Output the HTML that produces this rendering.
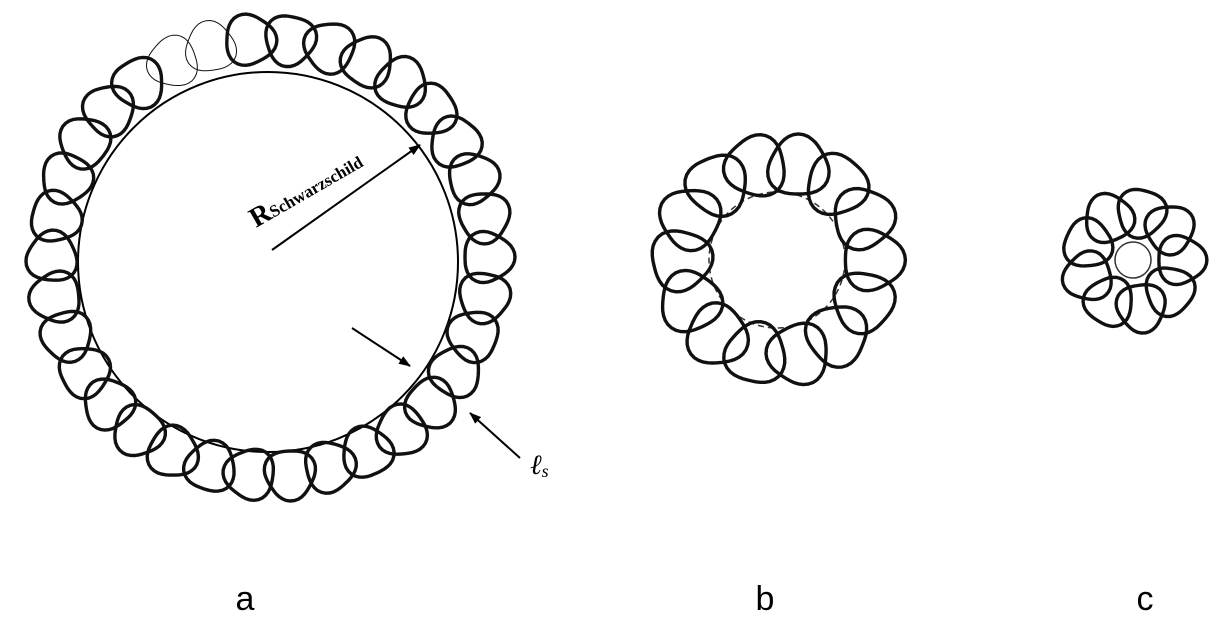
<!DOCTYPE html>
<html><head><meta charset="utf-8"><style>
html,body{margin:0;padding:0;background:#fff;}
svg{display:block}
</style></head><body>
<svg id="s" width="1226" height="640" viewBox="0 0 1226 640" xmlns="http://www.w3.org/2000/svg">
<defs><marker id="ah" markerWidth="12" markerHeight="9" refX="11" refY="4.5" orient="auto" markerUnits="userSpaceOnUse"><path d="M0,0 L12,4.5 L0,9 z" fill="#000"/></marker></defs>
<circle cx="268" cy="262" r="190" fill="none" stroke="#000" stroke-width="2"/>
<circle cx="777" cy="260" r="68" fill="none" stroke="#333" stroke-width="1.5" stroke-dasharray="6,4"/>
<circle cx="1133" cy="260" r="18" fill="none" stroke="#333" stroke-width="1.5"/>
<g id="loops" fill="none" stroke="#111" stroke-width="3.4"></g>
<line x1="272" y1="250" x2="420" y2="145" stroke="#000" stroke-width="2" marker-end="url(#ah)"/>
<line x1="352" y1="328" x2="410" y2="366" stroke="#000" stroke-width="2" marker-end="url(#ah)"/>
<line x1="520" y1="458" x2="470" y2="413" stroke="#000" stroke-width="2" marker-end="url(#ah)"/>
<text x="0" y="0" transform="translate(256,228) rotate(-30)" font-family="Liberation Serif,serif" font-weight="bold" font-size="28">R<tspan font-size="17">Schwarzschild</tspan></text>
<text x="530" y="474" font-family="Liberation Serif,serif" font-style="italic" font-size="28">ℓ<tspan font-size="18" dy="3">s</tspan></text>
<text x="245" y="610" font-family="Liberation Sans,sans-serif" font-size="34" text-anchor="middle">a</text>
<text x="765" y="610" font-family="Liberation Sans,sans-serif" font-size="34" text-anchor="middle">b</text>
<text x="1145" y="610" font-family="Liberation Sans,sans-serif" font-size="34" text-anchor="middle">c</text>
</svg>
<script>
var g=document.getElementById('loops'),ns='http://www.w3.org/2000/svg';
function ring(cx,cy,R,n,r,thinFrom,thinTo){
 for(var i=0;i<n;i++){
  var a=i/n*2*Math.PI, x=cx+R*Math.cos(a), y=cy+R*Math.sin(a);
  var p='';
  for(var k=0;k<=40;k++){
   var t=k/40*2*Math.PI, rr=r*(1+0.08*Math.cos(3*t+i)), px=x+rr*Math.cos(t), py=y+rr*Math.sin(t);
   p+=(k?'L':'M')+px.toFixed(1)+','+py.toFixed(1);
  }
  var e=document.createElementNS(ns,'path');e.setAttribute('d',p+'Z');
  var deg=a*180/Math.PI;
  if(thinFrom!==undefined && deg>thinFrom && deg<thinTo){e.setAttribute('stroke-width','1');}
  g.appendChild(e);
 }
}
ring(270,257,218,34,25,236,262);
ring(777,260,96,14,30);
ring(1133,260,48,9,24);
</script>
</body></html>
